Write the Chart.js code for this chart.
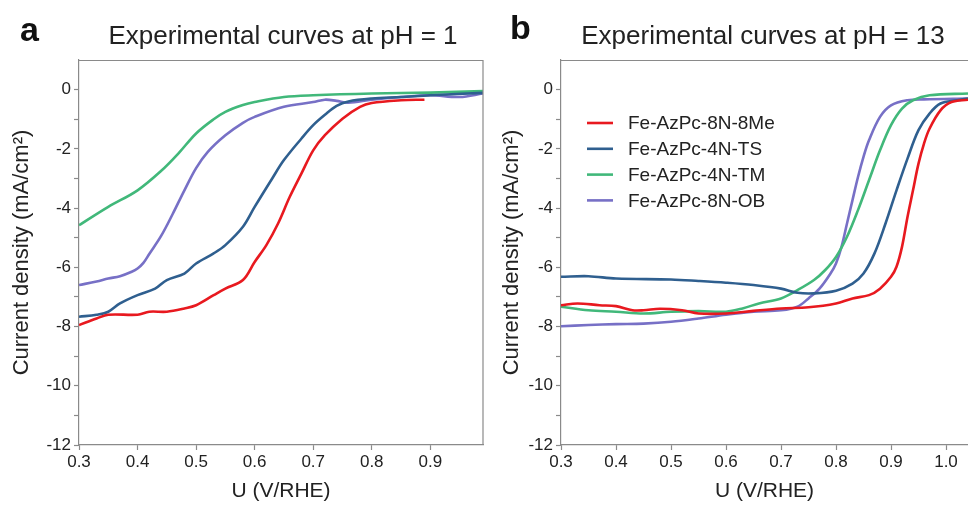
<!DOCTYPE html>
<html>
<head>
<meta charset="utf-8">
<script src="https://cdn.jsdelivr.net/npm/chart.js@4/dist/chart.umd.min.js"></script>
<style>
  html,body{margin:0;padding:0;background:#fff;width:968px;height:506px;overflow:hidden;font-family:"Liberation Sans",Arial,sans-serif;}
  .panel{position:absolute;top:0;height:506px;}
  .lbl{position:absolute;font-weight:bold;font-size:34px;color:#111;line-height:1;}
  .ttl{position:absolute;font-size:26px;color:#222;line-height:1;white-space:nowrap;transform:translateX(-50%);}
</style>
</head>
<body>
<div class="panel" style="left:0;width:490px;"><canvas id="ca"></canvas></div>
<div class="panel" style="left:490px;width:478px;"><canvas id="cb"></canvas></div>
<div class="lbl" style="left:20px;top:12px;">a</div>
<div class="ttl" style="left:283px;top:22px;">Experimental curves at pH = 1</div>
<div class="lbl" style="left:510px;top:10px;">b</div>
<div class="ttl" style="left:763px;top:22px;">Experimental curves at pH = 13</div>
<script>
// ---------- series names & colours ----------
const seriesNames = ["Fe-AzPc-8N-8Me", "Fe-AzPc-4N-TS", "Fe-AzPc-4N-TM", "Fe-AzPc-8N-OB"];
const seriesColors = ["#e8191f", "#2f5f8f", "#41b87a", "#7770c6"];

// ---------- tick labels ----------
const xTicksA = [0.3, 0.4, 0.5, 0.6, 0.7, 0.8, 0.9];
const xTicksB = [0.3, 0.4, 0.5, 0.6, 0.7, 0.8, 0.9, 1.0];
const yTicks = [-12, -11, -10, -9, -8, -7, -6, -5, -4, -3, -2, -1, 0];

// ---------- panel a (pH = 1) ----------
const aU_8Me = [0.30, 0.33, 0.35, 0.40, 0.42, 0.45, 0.48, 0.50, 0.53, 0.55, 0.58, 0.60, 0.62, 0.64, 0.66, 0.68, 0.70, 0.72, 0.75, 0.78, 0.80, 0.85, 0.89];
const aJ_8Me = [-7.95, -7.73, -7.60, -7.60, -7.50, -7.50, -7.39, -7.28, -6.94, -6.72, -6.43, -5.82, -5.25, -4.52, -3.62, -2.83, -2.05, -1.54, -0.98, -0.58, -0.45, -0.36, -0.34];

const aU_TS = [0.30, 0.33, 0.35, 0.37, 0.40, 0.43, 0.45, 0.48, 0.50, 0.53, 0.55, 0.58, 0.60, 0.63, 0.65, 0.68, 0.70, 0.72, 0.74, 0.76, 0.80, 0.85, 0.90, 0.99];
const aJ_TS = [-7.67, -7.60, -7.50, -7.22, -6.94, -6.72, -6.43, -6.21, -5.87, -5.53, -5.25, -4.63, -3.96, -3.00, -2.38, -1.65, -1.20, -0.85, -0.55, -0.40, -0.30, -0.25, -0.19, -0.11];

const aU_TM = [0.30, 0.35, 0.40, 0.44, 0.47, 0.50, 0.53, 0.55, 0.58, 0.60, 0.65, 0.70, 0.80, 0.90, 0.99];
const aJ_TM = [-4.58, -3.96, -3.40, -2.75, -2.15, -1.48, -1.00, -0.75, -0.52, -0.42, -0.25, -0.19, -0.13, -0.10, -0.05];

const aU_OB = [0.30, 0.33, 0.35, 0.37, 0.39, 0.40, 0.41, 0.42, 0.44, 0.46, 0.48, 0.50, 0.52, 0.55, 0.58, 0.60, 0.65, 0.70, 0.72, 0.74, 0.76, 0.80, 0.85, 0.90, 0.95, 0.99];
const aJ_OB = [-6.60, -6.48, -6.38, -6.30, -6.15, -6.04, -5.85, -5.55, -4.95, -4.20, -3.40, -2.65, -2.10, -1.54, -1.12, -0.92, -0.58, -0.42, -0.34, -0.38, -0.44, -0.34, -0.25, -0.19, -0.25, -0.13];

// ---------- panel b (pH = 13) ----------
const bU_8Me = [0.30, 0.33, 0.37, 0.40, 0.43, 0.45, 0.48, 0.52, 0.55, 0.60, 0.65, 0.70, 0.75, 0.80, 0.83, 0.86, 0.88, 0.90, 0.91, 0.92, 0.93, 0.94, 0.95, 0.96, 0.97, 0.99, 1.01, 1.04];
const bJ_8Me = [-7.28, -7.22, -7.28, -7.31, -7.45, -7.45, -7.40, -7.45, -7.56, -7.56, -7.47, -7.39, -7.35, -7.22, -7.05, -6.94, -6.72, -6.32, -5.98, -5.31, -4.30, -3.40, -2.50, -1.82, -1.32, -0.70, -0.42, -0.34];

const bU_TS = [0.30, 0.35, 0.40, 0.50, 0.55, 0.60, 0.65, 0.70, 0.73, 0.76, 0.80, 0.83, 0.85, 0.87, 0.89, 0.91, 0.93, 0.95, 0.97, 0.99, 1.02, 1.04];
const bJ_TS = [-6.32, -6.30, -6.38, -6.41, -6.46, -6.52, -6.60, -6.72, -6.86, -6.88, -6.79, -6.55, -6.21, -5.53, -4.52, -3.40, -2.33, -1.37, -0.81, -0.47, -0.36, -0.30];

const bU_TM = [0.30, 0.35, 0.40, 0.45, 0.50, 0.55, 0.60, 0.63, 0.66, 0.70, 0.73, 0.76, 0.78, 0.80, 0.82, 0.84, 0.86, 0.88, 0.90, 0.92, 0.94, 0.97, 1.04];
const bJ_TM = [-7.33, -7.45, -7.50, -7.56, -7.50, -7.48, -7.50, -7.39, -7.22, -7.05, -6.77, -6.43, -6.10, -5.65, -4.97, -4.07, -3.06, -2.05, -1.20, -0.64, -0.36, -0.19, -0.13];

const bU_OB = [0.30, 0.35, 0.40, 0.45, 0.50, 0.55, 0.60, 0.65, 0.70, 0.73, 0.75, 0.77, 0.79, 0.80, 0.81, 0.82, 0.83, 0.84, 0.85, 0.86, 0.88, 0.90, 0.93, 0.96, 1.04];
const bJ_OB = [-7.99, -7.95, -7.92, -7.90, -7.84, -7.73, -7.60, -7.50, -7.45, -7.33, -7.05, -6.72, -6.21, -5.87, -5.31, -4.52, -3.73, -2.95, -2.27, -1.71, -0.92, -0.53, -0.36, -0.33, -0.30];

// ---------- helpers ----------
const zip = (xs, ys) => xs.map((x, i) => ({x: x, y: ys[i]}));
const AXIS = "#8a8a8a";
const FONT = "'Liberation Sans', Arial, sans-serif";

function makeDatasets(pairs) {
  return pairs.map((p, i) => ({
    label: seriesNames[i],
    data: zip(p[0], p[1]),
    borderColor: seriesColors[i],
    backgroundColor: seriesColors[i],
    borderWidth: 2.6,
    pointRadius: 0,
    tension: 0.35,
    fill: false
  }));
}

const boxPlugin = {
  id: 'box',
  afterDraw(chart, args, opts) {
    const {ctx, chartArea: a} = chart;
    ctx.save();
    ctx.strokeStyle = AXIS;
    ctx.lineWidth = 1.2;
    ctx.beginPath();
    ctx.moveTo(a.left, a.top + 0.5);
    ctx.lineTo(a.right, a.top + 0.5);
    if (opts.right) ctx.lineTo(a.right, a.bottom);
    ctx.stroke();
    ctx.restore();
  }
};

const insideLegend = {
  id: 'insideLegend',
  afterDraw(chart, args, opts) {
    if (!opts.show) return;
    const {ctx, chartArea: a} = chart;
    ctx.save();
    ctx.font = "19px " + FONT;
    ctx.textBaseline = 'middle';
    chart.data.datasets.forEach((ds, i) => {
      const y = a.top + 63 + i * 25.8;
      ctx.strokeStyle = ds.borderColor;
      ctx.lineWidth = 2.6;
      ctx.beginPath();
      ctx.moveTo(a.left + 26, y);
      ctx.lineTo(a.left + 52, y);
      ctx.stroke();
      ctx.fillStyle = '#222';
      ctx.fillText(ds.label, a.left + 67, y + 1);
    });
    ctx.restore();
  }
};

function makeChart(id, datasets, xmax, xTicks, yWidth, padRight, showRight, showLegend) {
  return new Chart(document.getElementById(id), {
    type: 'line',
    data: {datasets: datasets},
    plugins: [boxPlugin, insideLegend],
    options: {
      responsive: true,
      maintainAspectRatio: false,
      animation: false,
      layout: {padding: {top: 60, right: padRight, bottom: 0, left: 0}},
      plugins: {
        legend: {display: false},
        tooltip: {enabled: false},
        box: {right: showRight},
        insideLegend: {show: showLegend}
      },
      scales: {
        x: {
          type: 'linear',
          min: 0.3,
          max: xmax,
          afterFit: s => { s.height = 61; },
          afterBuildTicks: s => { s.ticks = xTicks.map(v => ({value: v})); },
          ticks: {
            callback: v => Number(v).toFixed(1),
            font: {family: FONT, size: 17},
            color: '#222',
            padding: 2,
            maxRotation: 0,
            autoSkip: false
          },
          grid: {drawOnChartArea: false, tickLength: 5, color: AXIS, tickWidth: 1.2},
          border: {color: AXIS, width: 1.2},
          title: {
            display: true,
            text: 'U (V/RHE)',
            font: {family: FONT, size: 21},
            color: '#222',
            padding: {top: 0, bottom: 2}
          }
        },
        y: {
          type: 'linear',
          min: -12,
          max: 1,
          afterFit: s => { s.width = yWidth; },
          afterBuildTicks: s => { s.ticks = yTicks.map(v => ({value: v})); },
          ticks: {
            callback: v => (v % 2 === 0 ? String(v) : ''),
            font: {family: FONT, size: 17},
            color: '#222',
            padding: 3,
            autoSkip: false
          },
          grid: {
            drawOnChartArea: false,
            tickLength: 5,
            color: AXIS,
            tickWidth: 1.2
          },
          border: {color: AXIS, width: 1.2},
          title: {
            display: true,
            text: 'Current density (mA/cm²)',
            font: {family: FONT, size: 22},
            color: '#222',
            padding: {top: 9, bottom: 0}
          }
        }
      }
    }
  });
}

makeChart('ca',
  makeDatasets([[aU_8Me, aJ_8Me], [aU_TS, aJ_TS], [aU_TM, aJ_TM], [aU_OB, aJ_OB]]),
  0.99, xTicksA, 79, 7, true, false);

makeChart('cb',
  makeDatasets([[bU_8Me, bJ_8Me], [bU_TS, bJ_TS], [bU_TM, bJ_TM], [bU_OB, bJ_OB]]),
  1.04, xTicksB, 71, 0, false, true);
</script>
</body>
</html>
